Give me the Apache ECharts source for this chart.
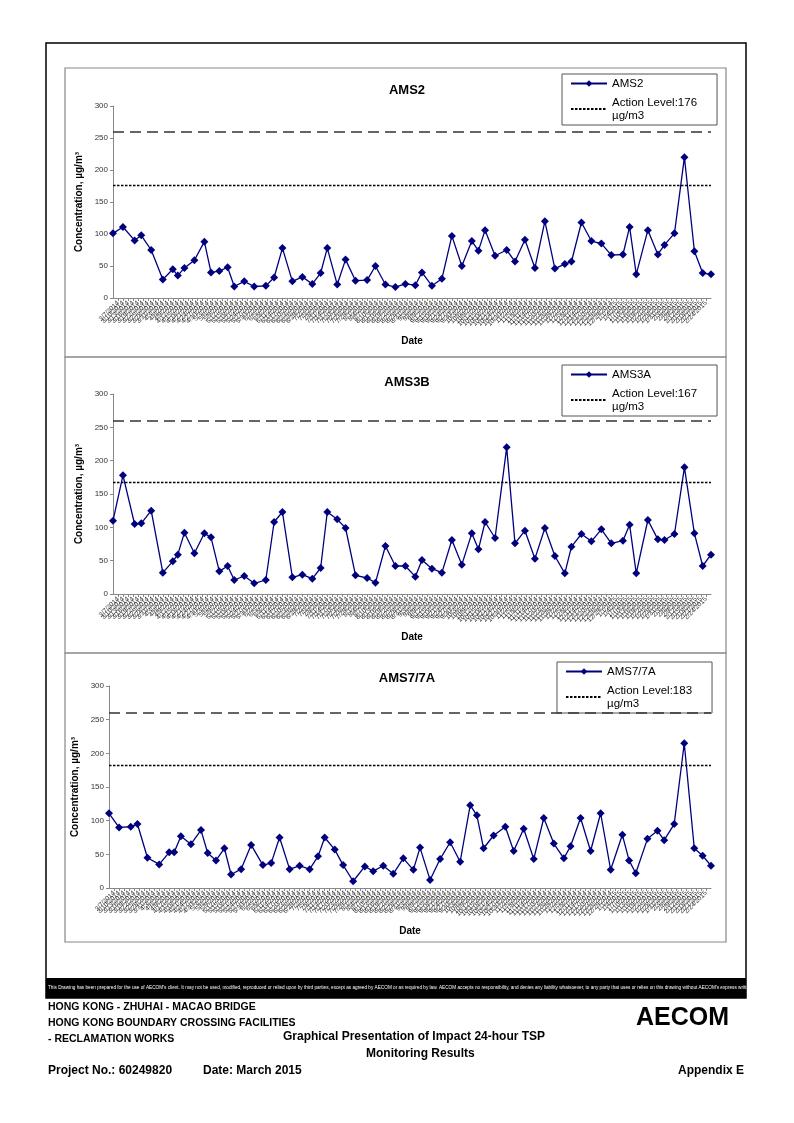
<!DOCTYPE html>
<html><head><meta charset="utf-8">
<script src="https://cdn.jsdelivr.net/npm/echarts@6/dist/echarts.min.js"></script>
<style>html,body{margin:0;padding:0;background:#fff}#c{width:794px;height:1123px}</style>
</head><body><div id="c"></div>
<script>
// ---------- data ----------
const sampleDates = ['3/4/2014','3/10/2014','3/17/2014','3/21/2014','3/27/2014','4/3/2014','4/9/2014','4/12/2014','4/16/2014','4/22/2014','4/28/2014','5/2/2014','5/7/2014','5/12/2014','5/16/2014','5/22/2014','5/28/2014','6/4/2014','6/9/2014','6/14/2014','6/20/2014','6/26/2014','7/2/2014','7/7/2014','7/11/2014','7/17/2014','7/22/2014','7/28/2014','8/4/2014','8/9/2014','8/15/2014','8/21/2014','8/27/2014','9/2/2014','9/6/2014','9/12/2014','9/18/2014','9/24/2014','9/30/2014','10/6/2014','10/10/2014','10/14/2014','10/20/2014','10/27/2014','11/1/2014','11/7/2014','11/13/2014','11/19/2014','11/25/2014','12/1/2014','12/5/2014','12/11/2014','12/17/2014','12/23/2014','12/29/2014','1/5/2015','1/9/2015','1/13/2015','1/20/2015','1/26/2015','1/30/2015','2/5/2015','2/11/2015','2/17/2015','2/22/2015','2/27/2015'];
const ams2 = [101,111,90,98,75,29,45,35,47,59,88,40,42,48,18,26,18,19,32,78,26,33,22,39,78,21,60,27,28,50,21,17,22,20,40,19,30,97,50,89,74,106,66,75,57,91,47,120,46,53,57,118,89,85,67,68,111,37,106,68,83,101,220,73,39,37];
const ams3 = [110,178,105,106,125,32,49,59,92,61,91,85,34,42,21,27,16,21,108,123,25,29,23,39,123,112,99,28,24,17,72,42,42,26,51,38,32,81,44,91,67,108,84,220,76,95,53,99,57,31,71,90,79,97,76,80,104,31,111,82,81,90,190,91,42,59];
const ams7 = [111,90,91,95,45,35,53,53,77,65,86,52,41,59,20,28,64,34,37,75,28,33,28,47,75,57,34,10,32,25,33,21,44,27,60,12,43,68,39,123,108,59,78,91,55,88,43,104,66,44,62,104,55,111,27,79,41,22,73,85,71,95,215,59,48,33];
const chartTitles = ['AMS2','AMS3B','AMS7/7A'];
const seriesNames = ['AMS2','AMS3A','AMS7/7A'];
const actionLevels = [176,167,183];
const limitLevel = 260;
const axisStart = [2014,3,4], axisEnd = [2015,2,27];
const yMin = 0, yMax = 300, yStep = 50;

// ---------- daily category axis ----------
const categories = [];
{
  let t = Date.UTC(axisStart[0], axisStart[1]-1, axisStart[2]);
  const tEnd = Date.UTC(axisEnd[0], axisEnd[1]-1, axisEnd[2]);
  while (t <= tEnd) {
    const d = new Date(t);
    categories.push((d.getUTCMonth()+1)+'/'+d.getUTCDate()+'/'+d.getUTCFullYear());
    t += 86400000;
  }
}
const values = [ams2, ams3, ams7];

const FONT = 'Liberation Sans, Arial, sans-serif';
const NARROW = 'Liberation Sans Narrow, Arial Narrow, Liberation Sans, sans-serif';
const NAVY = '#00007f';

const grids = [
  {left:113, top:106, width:598, height:192},
  {left:113, top:394, width:598, height:200},
  {left:109, top:686, width:602, height:202}
];
const titlePos = [{left:402, top:79},{left:402, top:371},{left:402, top:667}];
const legendPos = [{left:562, top:74},{left:562, top:365},{left:557, top:662}];

const option = {
  animation:false,
  backgroundColor:'#fff',
  textStyle:{fontFamily:FONT},
  title: chartTitles.map((t,i)=>({text:t, left:titlePos[i].left, top:titlePos[i].top, textAlign:'center',
      textStyle:{fontSize:13, fontWeight:'bold', color:'#000', fontFamily:FONT}})),
  grid: grids,
  legend: seriesNames.map((n,i)=>({
    data:[n, {name:'Action Level:'+actionLevels[i]+' µg/m3', itemStyle:{color:'transparent', borderColor:'transparent', borderWidth:0}}],
    orient:'vertical', left:legendPos[i].left, top:legendPos[i].top,
    borderColor:'#555', borderWidth:1, padding:[3,20,3,8], itemGap:6,
    itemWidth:36, itemHeight:8, selectedMode:false,
    formatter: name => name.replace(' µg', '\nµg'),
    textStyle:{fontSize:11.5, lineHeight:13, color:'#000', fontFamily:NARROW}
  })),
  xAxis: grids.map((g,i)=>({
    type:'category', gridIndex:i, data:categories, boundaryGap:false,
    name:'Date', nameLocation:'middle', nameGap:38,
    nameTextStyle:{fontSize:10, fontWeight:'bold', color:'#000', fontFamily:FONT},
    axisLine:{lineStyle:{color:'#888', width:1}},
    axisTick:{show:true, interval:2, length:3, lineStyle:{color:'#888'}},
    axisLabel:{interval:2, rotate:45, fontSize:6.5, color:'#333', margin:4, fontFamily:FONT}
  })),
  yAxis: grids.map((g,i)=>({
    type:'value', gridIndex:i, min:yMin, max:yMax, interval:yStep,
    name:'Concentration, µg/m³', nameLocation:'middle', nameGap:28,
    nameTextStyle:{fontSize:10, fontWeight:'bold', color:'#000', fontFamily:FONT},
    axisLine:{show:true, lineStyle:{color:'#888', width:1}},
    axisTick:{show:true, length:3, lineStyle:{color:'#888'}},
    axisLabel:{fontSize:8, color:'#333', margin:5},
    splitLine:{show:false}
  })),
  series: []
};

values.forEach((vals,i)=>{
  option.series.push({
    type:'line', name:seriesNames[i], xAxisIndex:i, yAxisIndex:i,
    data: sampleDates.map((d,k)=>[d, vals[k]]),
    symbol:'diamond', symbolSize:8, showAllSymbol:true,
    lineStyle:{color:NAVY, width:1.3}, itemStyle:{color:NAVY},
    markLine:{silent:true, symbol:['none','none'], label:{show:false},
      lineStyle:{color:'#333', width:1.6, type:[11,6]},
      data:[{yAxis:limitLevel}]}
  });
  option.series.push({
    type:'line', name:'Action Level:'+actionLevels[i]+' µg/m3', xAxisIndex:i, yAxisIndex:i,
    data:[], symbol:'none',
    lineStyle:{color:'#000', width:1.3, type:[2.5,1.5]}, itemStyle:{color:'#000'},
    markLine:{silent:true, symbol:['none','none'], label:{show:false},
      lineStyle:{color:'#000', width:1.3, type:[2.5,1.5]},
      data:[{yAxis:actionLevels[i]}]}
  });
});

const disclaimer = "This Drawing has been prepared for the use of AECOM's client. It may not be used, modified, reproduced or relied upon by third parties, except as agreed by AECOM or as required by law. AECOM accepts no responsibility, and denies any liability whatsoever, to any party that uses or relies on this drawing without AECOM's express written cons";

option.graphic = [
  {type:'rect', shape:{x:46, y:43, width:700, height:955}, style:{fill:'none', stroke:'#000', lineWidth:1.5}, silent:true, z:-1},
  {type:'rect', shape:{x:65, y:68, width:661, height:289}, style:{fill:'none', stroke:'#888', lineWidth:1.2}, silent:true, z:-1},
  {type:'rect', shape:{x:65, y:357, width:661, height:296}, style:{fill:'none', stroke:'#888', lineWidth:1.2}, silent:true, z:-1},
  {type:'rect', shape:{x:65, y:653, width:661, height:289}, style:{fill:'none', stroke:'#888', lineWidth:1.2}, silent:true, z:-1},
  {type:'rect', shape:{x:46, y:978, width:700, height:20}, style:{fill:'#000'}, silent:true},
  {type:'text', left:48, top:985, style:{text:disclaimer, fill:'#fff', font:'4.7px '+NARROW}, silent:true},
  {type:'text', left:48, top:1002, style:{text:'HONG KONG - ZHUHAI - MACAO BRIDGE', fill:'#000', font:'bold 10.5px '+FONT}},
  {type:'text', left:48, top:1018, style:{text:'HONG KONG BOUNDARY CROSSING FACILITIES', fill:'#000', font:'bold 10.5px '+FONT}},
  {type:'text', left:48, top:1034, style:{text:'- RECLAMATION WORKS', fill:'#000', font:'bold 10.5px '+FONT}},
  {type:'text', left:283, top:1031, style:{text:'Graphical Presentation of Impact 24-hour TSP', fill:'#000', font:'bold 12px '+FONT}},
  {type:'text', left:366, top:1048, style:{text:'Monitoring Results', fill:'#000', font:'bold 12px '+FONT}},
  {type:'text', left:48, top:1065, style:{text:'Project No.: 60249820', fill:'#000', font:'bold 12px '+FONT}},
  {type:'text', left:203, top:1065, style:{text:'Date: March 2015', fill:'#000', font:'bold 12px '+FONT}},
  {type:'text', right:50, top:1065, style:{text:'Appendix E', fill:'#000', font:'bold 12px '+FONT}},
  {type:'text', left:636, top:1006, style:{text:'AECOM', fill:'#000', font:'900 25px '+FONT}}
];

const chart = echarts.init(document.getElementById('c'), null, {renderer:'canvas'});
chart.setOption(option);
</script>
</body></html>
